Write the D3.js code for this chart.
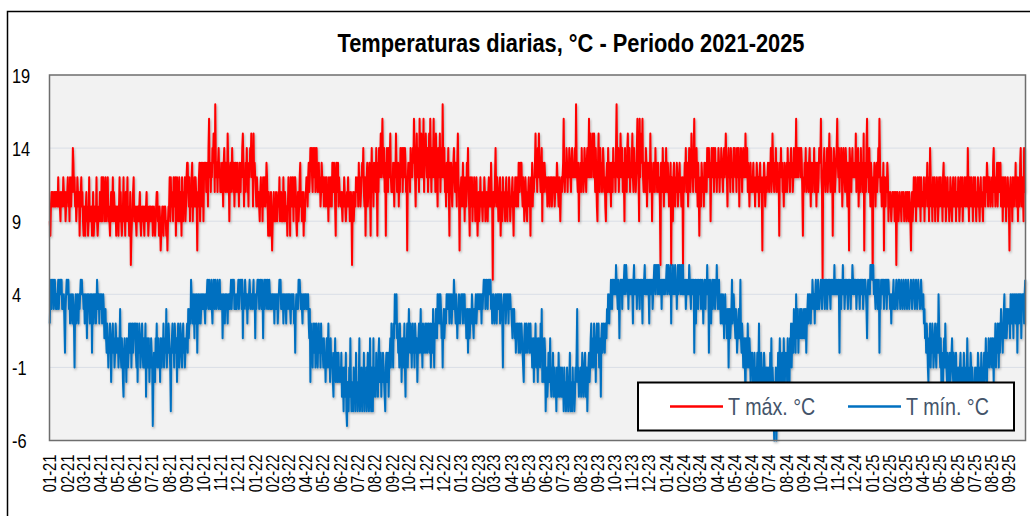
<!DOCTYPE html>
<html>
<head>
<meta charset="utf-8">
<script src="https://cdn.jsdelivr.net/npm/d3@7"></script>
<style>
  body { margin: 0; background: #fff; }
  svg { display: block; }
  text { font-family: "Liberation Sans Narrow", "Arial Narrow", "Liberation Sans", Arial, sans-serif; }
</style>
</head>
<body>
<div id="chart"></div>
<script>
// Daily values, one string per month (Jan..Dec).
// T max: each character is (value - 5) in base 36  -> "5" = 10 °C, "a" = 15 °C
// T min: each character is (value + 6) in base 36  -> "6" = 0 °C,  "a" = 4 °C
// spaces are only there to make the strings easier to read
const tmax2021 = [
  "4356565565 6566575654 6565765645 6", "6756476576 9867564576 56356756",
  "4354356453 4745453463 4554743454 6", "5474776457 4567454356 4574654535",
  "4535746434 5745364574 5346134567 4", "4543545456 4345454354 5645345454",
  "4534543456 6453542345 4354543424 5", "5747565475 6735754674 5637546574 5",
  "7886574657 8465757652 6578468758", "4787867859 b7868798a9 6c87868978 6",
  "7687589768 76a8747867 9768578678", "675876879a 8576879675 8798a795a7 8"
];
const tmax2022 = [
  "7657656546 7564756756 8753643564 2", "4564546545 6574564547 54654535",
  "7563765764 7576435645 7856456354 6", "6765786798 9769879689 7678675687",
  "6756756756 4765765876 8753867857 6", "6565465765 4565756456 5156456576",
  "6758675678 7965736785 6786379675 8", "7869738697 8a79b87968 37986978a7 6",
  "7687587a86 7857697896 8979867278", "786978798b 9758a7986b 87a978b698 a",
  "87968a7b86 978b796a87 5987a6897c", "8796758679 6387865789 768758a762 6"
];
const tmax2023 = [
  "6756857467 5879653765 7465764575 3", "5645756546 5764565467 56586506",
  "6579657645 6735647565 4675465764 5", "5675365765 7658768786 5764576546",
  "6756376857 678a78697a 8768948768 7", "7675676576 7567675676 8765764676",
  "78b7687986 8798768978 7897c87684 7", "7869786798 768978b78a 798a7a8697 5",
  "48a7697867 9867547869 7687587697", "7869c87968 7a87968749 7869a78968 7",
  "8a76978679 b874b79a8b 7687698578", "786a784768 7697867867 5187697587 6"
];
const tmax2024 = [
  "9768757681 7647865768 7567867567 1", "7687967857 9867a7869b 786975863",
  "6758767586 7869789784 7987968978 6", "8798687987 68978a8758 9786987869",
  "8978698795 8798689787 a879687578 6", "7678675768 7675786762 7687567678",
  "7687967a87 6879678673 8797867587 6", "7869787689 78679878b7 8979897986 3",
  "7687967876 8975876879 6785786798", "8b76078976 879678a769 7837986789 b",
  "8796879857 9876987587 2987689787", "87a6879578 697867a278 69b7869758 7"
];
const tmax2025 = [
  "6076875786 797b867576 8276576874 6", "5654565564 5615654565 54655645",
  "5645654654 2564575674 6576576475 6", "6574657685 7469756476 5746576457",
  "5675647856 7456756457 6546756574 6", "6576457657 4657657659 6475675647",
  "5675465765 4675654767 5768757675 6", "6758967567 8578678567 4675674657 6",
  "5267564765 7685674675 8965764966"
];

const tmin2021 = [
  "8ab9bab9ab a9a9ab9abb ab9a9a869a b", "bab9a89a98 a9859a89a9 8a9ababa",
  "a9a89a97a9 a98a9a69a8 a9a89ba9a8 a", "a9a89a9789 7687576874 6786756876",
  "6756796576 4367564765 6876857867 8", "7865847687 5678657568 3675674657",
  "6514654768 5675647657 6856769576 8", "7652678675 8767468756 8765786756 7",
  "78697898ba 98a97a98a6 9a89a89a9a", "9a98a9aba9 ba9ab98aba 9ba9aba9ab 9",
  "a9a79a98a9 a98a9a9ab9 abab9a9a9a", "ab9abab9b7 a9aba9a8a9 aba9aa9ab9 a"
];
const tmin2022 = [
  "7a9abab9ab a9ba7ab9ab a9ba9ba9a9 a", "a9a8a9a9a8 9abab9a9a8 a9a98a9a",
  "a9a98a9a9a 8969a9a9ba ba9a98a9a9 a", "a9a9a87948 6758768578 6578675867",
  "6575646756 8564756543 6574564564 5", "5463542534 6214325374 2342534263",
  "4234723452 4362435246 3247325427 3", "4536453674 5635465432 5645635675 8",
  "67587a98a7 8675867467 5685376857", "9768757867 5876746786 7967587678 6",
  "7867876857 8697587987 a89a8a9785", "897898a9a9 a8a9a89a9b a98a9798a9 8"
];
const tmin2023 = [
  "9a9a8a9a89 7896897898 a987989a89 a", "9a9a9a8a9a bab9aba9ba bab9a89a",
  "989a98a9a9 a89a9859a9 a89a9a8a9a 9", "9879897867 8786786787 6547867867",
  "7867867567 4768576476 7586947647 6", "2453464574 3546345342 5436435435",
  "3425342354 2346234253 4235469453 4", "4534653456 3452456457 8567586747 8",
  "7685763786 787688798a 98a9ba9bab", "abacba9ba7 abab9babca bcbab9baba b",
  "ba8bcabab9 baba9baba8 babcababab", "a8babab9ab cbacbcabca bab9bababa b"
];
const tmin2024 = [
  "bcabcbabc8 bacbabcab9 bcabcbacba c", "abab9ababa cba9babab6 ab8aba9ba",
  "ab9aba8aba 9bacab6aba 8ab9aba9ba c", "a9ab9a8a98 a979a89789 589789b89a",
  "9879867897 8b76875675 3765865764 6", "5645364154 6358453645 3465345245",
  "4536473542 0435034635 7435643754 6", "5647563768 57869786a8 7968798798 7",
  "89789689a8 9a98a9ba9a 8ab9a9ba9a", "aba9baba9b ab9ababa9b ababacabab a",
  "aba6ba9bac ab9ababa9b aba9bacbab", "bab9ababa9 babab9abab a97ababacb c"
];
const tmin2025 = [
  "cbcaba9bab 9ab6a9baba b9abab9bab a", "a9a8a9ab9a 9aba9abba9 aba9aba9",
  "aba9aba9aa ba9abba9ab a9abaa9aba 9", "9a89786875 4768576875 67865786a8",
  "6574654675 8654654564 5675465456 4", "5453456453 5465435475 4354654534",
  "3454354653 4546354564 5754657656 7", "6576476857 6875867978 689a789789 8",
  "897a98a97a 9a89a69a8a 9a79a9a8ab"
];

const years = [2021, 2022, 2023, 2024, 2025];
const yTicks = [19, 14, 9, 4, -1, -6];
const seriesNames = ["T máx. °C", "T mín. °C"];
const seriesColors = ["#ff0000", "#0070c0"];
const title = "Temperaturas diarias, °C - Periodo 2021-2025";

function decode(yearsData, offset) {
  const out = [];
  yearsData.forEach((months, yi) => {
    months.forEach((s, m) => {
      s.replace(/\s/g, "").split("").forEach((c, i) => {
        out.push({ date: new Date(years[yi], m, i + 1, 12), v: parseInt(c, 36) + offset });
      });
    });
  });
  return out;
}

const dataMax = decode([tmax2021, tmax2022, tmax2023, tmax2024, tmax2025], 5);
const dataMin = decode([tmin2021, tmin2022, tmin2023, tmin2024, tmin2025], -6);

const W = 1030, H = 516;
const plot = { left: 49.5, top: 75, right: 1025.5, bottom: 440.5 };
// no narrow font installed: squeeze the regular one horizontally
const narrow = 0.82;

const svg = d3
  .select("#chart")
  .append("svg")
  .attr("width", W)
  .attr("height", H);

const defs = svg.append("defs");
const shadow = defs.append("filter").attr("id", "shadow")
  .attr("x", "-5%").attr("y", "-5%").attr("width", "110%").attr("height", "120%");
shadow.append("feDropShadow")
  .attr("dx", 0.8).attr("dy", 1.6).attr("stdDeviation", 1)
  .attr("flood-color", "#000").attr("flood-opacity", 0.3);

// chart area border
svg.append("rect")
  .attr("x", 7.5).attr("y", 11.5)
  .attr("width", W).attr("height", H)
  .attr("fill", "#fff")
  .attr("stroke", "#000")
  .attr("stroke-width", 1.5);

svg.append("text")
  .attr("transform", "translate(571,51.5) scale(0.84,1)")
  .attr("text-anchor", "middle")
  .attr("font-size", 26)
  .attr("font-weight", "bold")
  .attr("fill", "#000")
  .text(title);

const x = d3
  .scaleTime()
  .domain([new Date(2021, 0, 1), new Date(2025, 9, 1)])
  .range([plot.left, plot.right]);

const y = d3.scaleLinear().domain([-6, 19]).range([plot.bottom, plot.top]);

// plot area
svg.append("rect")
  .attr("x", plot.left).attr("y", plot.top)
  .attr("width", plot.right - plot.left)
  .attr("height", plot.bottom - plot.top)
  .attr("fill", "#f2f2f2");

svg.append("g")
  .selectAll("line")
  .data(yTicks.filter((d) => d !== 19 && d !== -6))
  .join("line")
  .attr("x1", plot.left).attr("x2", plot.right)
  .attr("y1", (d) => y(d)).attr("y2", (d) => y(d))
  .attr("stroke", "#d9dee6")
  .attr("stroke-width", 1);

const yAxis = svg.append("g")
  .attr("transform", `translate(${plot.left},0)`)
  .call(d3.axisLeft(y).tickValues(yTicks).tickSize(0).tickFormat((d) => String(d)));
yAxis.select(".domain").remove();
yAxis.selectAll("text")
  .attr("x", 0)
  .attr("transform", `translate(${12 - plot.left},0) scale(${narrow},1)`)
  .attr("text-anchor", "start")
  .attr("dy", "0.35em")
  .attr("font-size", 20)
  .attr("font-family", null)
  .attr("fill", "#000");

const xAxis = svg.append("g")
  .attr("transform", `translate(0,${plot.bottom})`)
  .call(
    d3.axisBottom(x)
      .tickValues(d3.timeMonth.range(new Date(2021, 0, 1), new Date(2025, 9, 1)))
      .tickSize(0)
      .tickFormat(d3.timeFormat("%m-%y"))
  );
xAxis.select(".domain").remove();
xAxis.selectAll("text")
  .attr("transform", `rotate(-90) scale(${narrow},1)`)
  .attr("x", -14 / narrow)
  .attr("y", 0)
  .attr("dy", "0.35em")
  .attr("text-anchor", "end")
  .attr("font-size", 18)
  .attr("font-family", null)
  .attr("fill", "#000");

const line = d3
  .line()
  .x((d) => x(d.date))
  .y((d) => y(d.v));

const lines = svg.append("g").attr("filter", "url(#shadow)");
[dataMax, dataMin].forEach((data, i) => {
  lines.append("path")
    .datum(data)
    .attr("fill", "none")
    .attr("stroke", seriesColors[i])
    .attr("stroke-width", 2)
    .attr("stroke-linejoin", "round")
    .attr("d", line);
});

// plot border
svg.append("rect")
  .attr("x", plot.left).attr("y", plot.top)
  .attr("width", plot.right - plot.left)
  .attr("height", plot.bottom - plot.top)
  .attr("fill", "none")
  .attr("stroke", "#6e6e6e")
  .attr("stroke-width", 1.5);

// legend
const legend = svg.append("g");
legend.append("rect")
  .attr("x", 638).attr("y", 382.5)
  .attr("width", 376).attr("height", 48)
  .attr("fill", "#fff")
  .attr("stroke", "#000")
  .attr("stroke-width", 2);

const legendX = [670, 848];
seriesNames.forEach((name, i) => {
  legend.append("line")
    .attr("x1", legendX[i]).attr("x2", legendX[i] + 53)
    .attr("y1", 406.5).attr("y2", 406.5)
    .attr("stroke", seriesColors[i])
    .attr("stroke-width", 2.5);
  legend.append("text")
    .attr("transform", `translate(${legendX[i] + 58},414.5) scale(${narrow},1)`)
    .attr("font-size", 24)
    .attr("fill", "#44546a")
    .text(name);
});
</script>
</body>
</html>
